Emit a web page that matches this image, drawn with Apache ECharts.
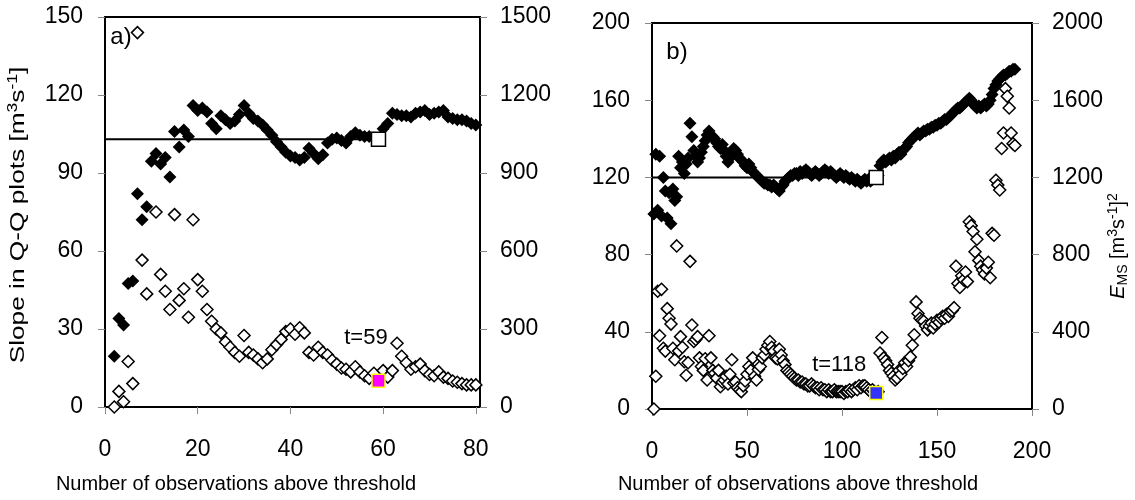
<!DOCTYPE html>
<html>
<head>
<meta charset="utf-8">
<script src="https://cdn.jsdelivr.net/npm/echarts@6/dist/echarts.min.js"></script>
<style>
  html, body { margin: 0; background: #fff; }
  #chart { width: 1135px; height: 500px; }
</style>
</head>
<body>
<div id="chart"></div>
<script>
// panel a) : observations 2..81
const aStart = 2;
const aSlope = [19.5, 34, 31.5, 47.5, 48.5, 82, 72, 77, 94.5, 97.5,
  93.5, 96, 88.5, 106, 100, 106.5, 104, 116, 114, 115,
  113.5, 109, 107, 112, 110.5, 109, 110, 112.5, 116, 113,
  111, 110, 108.5, 106.5, 104.5, 102, 100, 98, 96.5, 96,
  95, 96, 99.5, 97.5, 95.5, 97, 101.5, 103, 103.5, 102.5,
  101.5, 104, 105.5, 104.5, 104, 104, 103.5, null, 107, 109,
  113, 112.5, 112, 112, 111.5, 113, 113.5, 114, 112.5, 113,
  113.5, 114, 111.5, 111, 110.5, 110.5, 110, 109, 108.5, 107.5];
const aEms = [0, 60, 20, 175, 90, 1440, 565, 435, null, 750,
  510, 445, 375, 740, 410, 455, 345, 720, 490, 445,
  375, 330, 300, 285, 250, 230, 210, 195, 275, 210,
  200, 185, 170, 185, 220, 240, 260, 290, 300, 280,
  305, 285, 210, 200, 230, 210, 200, 180, 165, 150,
  145, 135, 155, 135, 120, 110, 130, null, 140, 115,
  140, 245, 195, 170, 145, 155, 165, 140, 125, 120,
  135, 115, 110, 100, 95, 90, 85, 85, 85, 90];
const aT = 59;
const aSlopeT = 103;
const aEmsT = 101;

// panel b) : observations 1..191
const bStart = 1;
const bSlope = [101, 132, 103, 131, 100, 120, 113, 99, 112, 96,
  114, 108, 110, 131, 125, 128, 122, 127, 130, 148,
  141, 134, 131, 128, 130, 133, 136, 139, 142, 144,
  142, 141, 140, 138, 136, 135, 137, 134, 131, 128,
  130, 133, 135, 134, 132, 130, 129, 128, 126, 125,
  127, 125, 123, 122, 121, 120, 119, 118, 117, 117,
  116, 116, 115, 116, 115, 114, 113, 115, 116, 118,
  119, 120, 121, 121, 122, 122, 121, 123, 122, 123,
  124, 123, 122, 121, 122, 123, 122, 121, 122, 123,
  124, 123, 122, 123, 122, 121, 120, 121, 122, 121,
  120, 121, 120, 119, 120, 119, 118, 119, 118, 117,
  118, 119, 118, 119, 118, 119, 120, null, 121, 126,
  128, 129, 128, 129, 130, 129, 131, 130, 132, 133,
  132, 134, 135, 136, 138, 139, 140, 141, 142, 143,
  142, 143, 144, 144, 145, 145, 146, 146, 147, 147,
  148, 148, 149, 150, 150, 151, 152, 153, 154, 155,
  156, 156, 157, 158, 159, 160, 161, 160, 158, 157,
  156, 157, 156, 157, 158, 157, 158, 160, 163, 166,
  168, 170, 171, 172, 173, 173, 174, 175, 175, 176, 176];
const bEms = [0, 170, 610, 380, 620, 315, 300, 520, 470, 440,
  315, 255, 845, 300, 375, 320, 245, 175, 240, 765,
  435, 350, 360, 375, 265, 220, 200, 260, 150, 380,
  265, 200, 185, 160, 200, 115, 140, 150, 170, 130,
  180, 255, 135, 140, 110, 100, 90, 120, 145, 180,
  220, 200, 265, 170, 150, 205, 220, 265, 280, 310,
  330, 350, 320, 300, 265, 260, 310, 280, 250, 230,
  200, 190, 180, 170, 160, 150, 150, 140, 140, 130,
  130, 120, 120, 130, 120, 110, 110, 100, 110, 100,
  100, 90, 100, 90, 90, 100, 90, 90, 90, 90,
  80, 90, 90, 100, 90, 100, 110, 100, 120, 110,
  120, 120, 110, 100, 90, 100, 90, null, 90, 290,
  370, 265, 250, 230, 200, 185, 170, 150, 160, 200,
  180, 210, 240, 220, 250, 270, 330, 385, 555, 495,
  470, 460, 455, 430, 410, 430, 445, 420, 440, 460,
  450, 470, 480, 470, 490, 480, 505, 510, 525, 740,
  650, 630, 690, 670, 710, 660, 970, 950, 920, 815,
  880, 770, 740, 720, 700, 730, 760, 680, 910, 900,
  1185, 1160, 1135, 1350, 1430, 1660, 1620, 1560, 1430, 1375, 1365];
const bT = 118;
const bSlopeT = 120;
const bEmsT = 83;

const FONT = '"Liberation Sans", Arial, sans-serif';

function pairs(start, vals) {
  return vals.map((v, i) => [start + i, v]);
}

function xAxisOf(grid, max, ticks) {
  return {
    gridIndex: grid, type: 'value', min: 0, max: max,
    axisLine: { show: true, onZero: false, lineStyle: { color: '#000', width: 2 } },
    axisTick: { show: true, customValues: ticks, length: 7, lineStyle: { color: '#888' } },
    axisLabel: { customValues: ticks, color: '#000', fontSize: 23, fontFamily: FONT, margin: 31 },
    splitLine: { show: false }
  };
}

function yAxisOf(grid, pos, max, interval) {
  return {
    gridIndex: grid, type: 'value', position: pos, min: 0, max: max, interval: interval,
    axisLine: { show: true, lineStyle: { color: '#000', width: 2 } },
    axisTick: { show: true, length: 7, lineStyle: { color: '#888' } },
    axisLabel: {
      color: '#000', fontSize: 23, fontFamily: FONT, margin: pos === 'left' ? 22 : 20,
      formatter: (v) => String(v)
    },
    splitLine: { show: false }
  };
}

function panelSeries(g, start, slope, ems, t, slopeT, emsT, tLabel, tPos, markColor) {
  return [
    {
      type: 'scatter', xAxisIndex: g, yAxisIndex: g * 2, symbol: 'diamond', symbolSize: 13,
      itemStyle: { color: '#000', opacity: 1 }, data: pairs(start, slope)
    },
    {
      type: 'scatter', xAxisIndex: g, yAxisIndex: g * 2 + 1, symbol: 'diamond', symbolSize: 12,
      itemStyle: { color: '#fff', borderColor: '#000', borderWidth: 1.5, opacity: 1 }, data: pairs(start, ems)
    },
    {
      type: 'line', xAxisIndex: g, yAxisIndex: g * 2, symbol: 'none',
      lineStyle: { color: '#000', width: 2 }, data: [[0, slopeT], [t, slopeT]]
    },
    {
      type: 'scatter', xAxisIndex: g, yAxisIndex: g * 2, symbol: 'rect', symbolSize: 14, z: 5,
      itemStyle: { color: '#fff', borderColor: '#000', borderWidth: 1.5, opacity: 1 }, data: [[t, slopeT]]
    },
    {
      type: 'scatter', xAxisIndex: g, yAxisIndex: g * 2 + 1, symbol: 'rect', symbolSize: 13, z: 5,
      itemStyle: { color: markColor, borderColor: '#ffff00', borderWidth: 1.5, opacity: 1 }, data: [[t, emsT]]
    },
    {
      type: 'scatter', xAxisIndex: g, yAxisIndex: g * 2, symbolSize: 0, z: 6,
      itemStyle: { opacity: 1 },
      label: { show: true, position: 'inside', formatter: tLabel, color: '#000', fontSize: 22, fontFamily: FONT },
      data: [tPos]
    }
  ];
}

const supRich = {
  sup: { fontSize: 14, fontFamily: FONT, padding: [0, 0, 10, 0] },
  sub: { fontSize: 14, fontFamily: FONT, padding: [10, 0, 0, 0] },
  e: { fontSize: 20, fontFamily: FONT, fontStyle: 'italic' }
};

function title(text, x, y, rot, size, stretch) {
  return {
    type: 'text', x: x, y: y, rotation: rot || 0, scaleX: stretch || 1, silent: true,
    style: {
      text: text, fill: '#000', fontSize: size || 20, fontFamily: FONT,
      align: 'center', verticalAlign: 'middle', rich: supRich
    }
  };
}

const chart = echarts.init(document.getElementById('chart'));
chart.setOption({
  animation: false,
  backgroundColor: '#fff',
  grid: [
    { left: 105, top: 17, width: 375, height: 390, show: true, borderColor: '#000', borderWidth: 2 },
    { left: 652, top: 23, width: 380, height: 386, show: true, borderColor: '#000', borderWidth: 2 }
  ],
  xAxis: [
    xAxisOf(0, 80.9, [0, 20, 40, 60, 80]),
    xAxisOf(1, 200, [0, 50, 100, 150, 200])
  ],
  yAxis: [
    yAxisOf(0, 'left', 150, 30),
    yAxisOf(0, 'right', 1500, 300),
    yAxisOf(1, 'left', 200, 40),
    yAxisOf(1, 'right', 2000, 400)
  ],
  graphic: [
    title('Slope in Q-Q plots [m{sup|3}s{sup|-1}]', 18, 215, Math.PI / 2, 21, 1.25),
    title('Number of observations above threshold', 236, 484, 0),
    title('Number of observations above threshold', 798, 484, 0),
    title('{e|E}{sub|MS} [m{sup|3}s{sup|-1}]{sup|2}', 1118, 246, Math.PI / 2),
    title('a)', 121, 37, 0, 24),
    title('b)', 677, 52, 0, 24)
  ],
  series: [
    ...panelSeries(0, aStart, aSlope, aEms, aT, aSlopeT, aEmsT, 't=59', [56.3, 26.5], '#ff00ff'),
    ...panelSeries(1, bStart, bSlope, bEms, bT, bSlopeT, bEmsT, 't=118', [98.5, 22.9], '#3333ff')
  ]
});
</script>
</body>
</html>
